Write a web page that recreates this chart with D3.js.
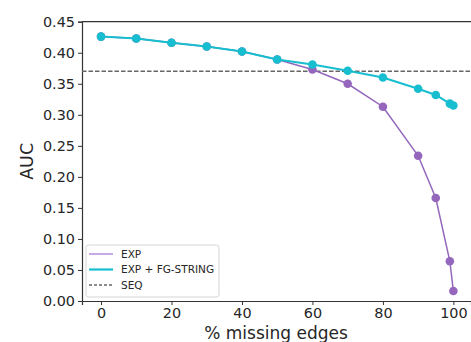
<!DOCTYPE html>
<html>
<head>
  <meta charset="utf-8">
  <script src="https://cdn.jsdelivr.net/npm/d3@7"></script>
  <style>
    body { margin: 0; background: #fff; }
    text { font-family: "DejaVu Sans", sans-serif; fill: #262626; }
  </style>
</head>
<body>
<script>
  // data
  var missing = [0, 10, 20, 30, 40, 50, 60, 70, 80, 90, 95, 99, 100];
  var expAuc = [0.426, 0.423, 0.416, 0.410, 0.402, 0.389, 0.373, 0.350, 0.313, 0.234, 0.166, 0.064, 0.016];
  var fgAuc = [0.426, 0.423, 0.416, 0.410, 0.402, 0.389, 0.381, 0.371, 0.360, 0.342, 0.332, 0.318, 0.315];
  var seqAuc = 0.370;
  var xTicks = [0, 20, 40, 60, 80, 100];
  var yTicks = [0, 0.05, 0.10, 0.15, 0.20, 0.25, 0.30, 0.35, 0.40, 0.45];
  var seriesNames = ["EXP", "EXP + FG-STRING", "SEQ"];

  var breite = 471, hoehe = 342;
  var pLeft = 82, pRight = 471, pTop = 21.7, pBottom = 301;

  var svg = d3.select("body").append("svg")
      .attr("width", breite)
      .attr("height", hoehe);

  var x = d3.scaleLinear().domain([-5.4, 105]).range([pLeft, pRight]);
  var y = d3.scaleLinear().domain([0, 0.45]).range([pBottom, pTop]);

  // axes
  var xAxis = svg.append("g")
      .attr("transform", "translate(0," + pBottom + ")")
      .call(d3.axisBottom(x).tickValues(xTicks).tickSize(4).tickPadding(3).tickFormat(d3.format("d")));
  var yAxis = svg.append("g")
      .attr("transform", "translate(" + pLeft + ",0)")
      .call(d3.axisLeft(y).tickValues(yTicks).tickSize(4).tickPadding(3).tickFormat(d3.format(".2f")));
  [xAxis, yAxis].forEach(function(a) {
    a.selectAll("text").style("font-size", "14.4px").attr("fill", "#262626");
    a.selectAll("line").attr("stroke", "#333");
    a.select(".domain").attr("stroke", "#333").attr("stroke-width", 1.2);
  });

  // top spine
  svg.append("line")
      .attr("x1", pLeft).attr("x2", pRight)
      .attr("y1", pTop).attr("y2", pTop)
      .attr("stroke", "#333").attr("stroke-width", 1.2);

  // SEQ reference line
  svg.append("line")
      .attr("x1", pLeft).attr("x2", pRight)
      .attr("y1", y(seqAuc)).attr("y2", y(seqAuc))
      .attr("stroke", "#666").attr("stroke-width", 1.5)
      .attr("stroke-dasharray", "4.5,2");

  var line = d3.line()
      .x(function(d) { return x(d[0]); })
      .y(function(d) { return y(d[1]); });

  function zeichne(values, farbe, breiteLinie) {
    var pts = d3.zip(missing, values);
    svg.append("path")
        .datum(pts)
        .attr("d", line)
        .attr("fill", "none")
        .attr("stroke", farbe)
        .attr("stroke-width", breiteLinie);
    svg.selectAll(null)
        .data(pts)
        .enter().append("circle")
        .attr("cx", function(d) { return x(d[0]); })
        .attr("cy", function(d) { return y(d[1]); })
        .attr("r", 4.3)
        .attr("fill", farbe);
  }
  zeichne(expAuc, "#9467bd", 1.5);
  zeichne(fgAuc, "#17becf", 2);

  // axis labels
  svg.append("text")
      .attr("x", 276).attr("y", 339)
      .attr("text-anchor", "middle")
      .style("font-size", "17px")
      .text("% missing edges");
  svg.append("text")
      .attr("transform", "translate(33," + ((pTop + pBottom) / 2) + ") rotate(-90)")
      .attr("text-anchor", "middle")
      .style("font-size", "17.5px")
      .text("AUC");

  // legend
  var leg = svg.append("g");
  leg.append("rect")
      .attr("x", 86).attr("y", 245)
      .attr("width", 133).attr("height", 52)
      .attr("rx", 2.5)
      .attr("fill", "#fff").attr("fill-opacity", 0.8)
      .attr("stroke", "#d5d5d5");
  var legFarben = ["#b48fd8", "#17becf", "#666"];
  seriesNames.forEach(function(n, i) {
    var yy = 254 + i * 15.5;
    leg.append("line")
        .attr("x1", 89).attr("x2", 113)
        .attr("y1", yy).attr("y2", yy)
        .attr("stroke", legFarben[i])
        .attr("stroke-width", i == 1 ? 2.2 : 1.5)
        .attr("stroke-dasharray", i == 2 ? "3,2" : null);
    leg.append("text")
        .attr("x", 121).attr("y", yy + 3.6)
        .style("font-size", "10.5px")
        .text(n);
  });
</script>
</body>
</html>
